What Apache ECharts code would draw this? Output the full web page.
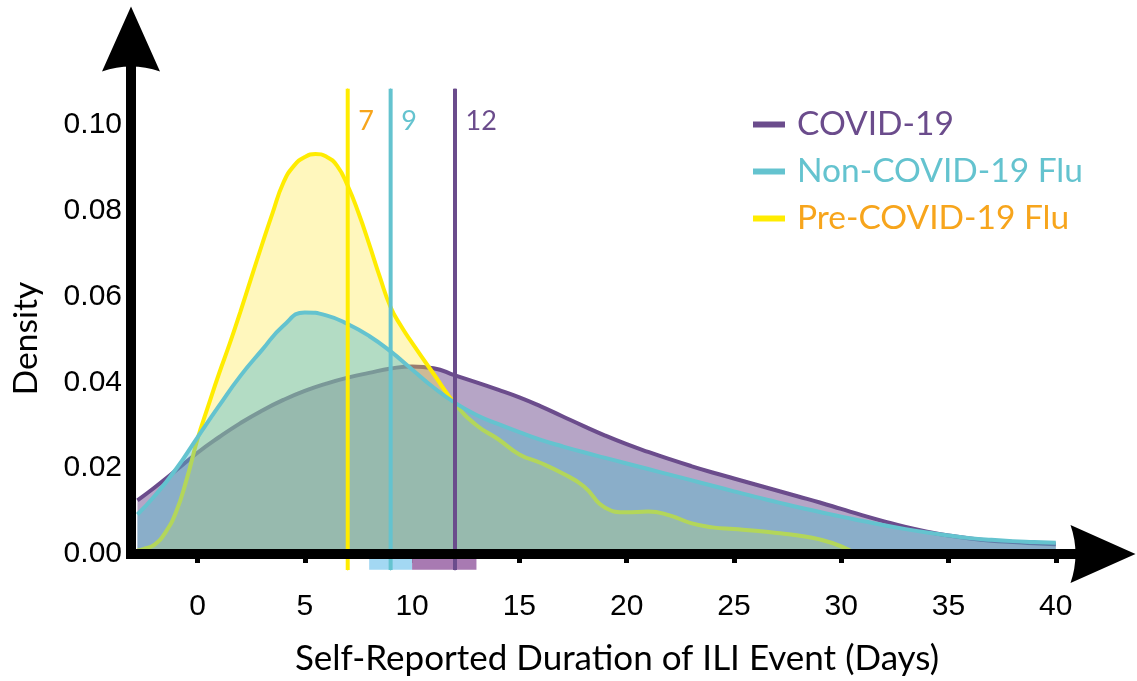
<!DOCTYPE html>
<html>
<head>
<meta charset="utf-8">
<script src="https://cdn.jsdelivr.net/npm/echarts@6/dist/echarts.min.js"></script>
<style>
html, body { margin: 0; padding: 0; background: #fff; }
#chart { width: 1137px; height: 681px; }
</style>
</head>
<body>
<div id="chart"></div>
<script>
// days sampled along the x axis (COVID-19 and Non-COVID-19 Flu curves)
var days = [-2.8, -2, -1, 0, 1, 2, 3, 4, 5, 6, 7, 8, 9, 10, 11, 12, 13, 14, 15, 16, 17, 18, 19, 20,
  21, 22, 23, 24, 25, 26, 27, 28, 29, 30, 31, 32, 33, 34, 35, 36, 37, 38, 39, 40];
var covidDensity = [0.0125, 0.0155, 0.0195, 0.0236, 0.0272, 0.0305, 0.0334, 0.0359, 0.0380, 0.0397, 0.0411,
  0.0422, 0.0432, 0.0437, 0.0433, 0.0416, 0.0400, 0.0383, 0.0365, 0.0344, 0.0321, 0.0298, 0.0276, 0.0256,
  0.0238, 0.0221, 0.0205, 0.0190, 0.0176, 0.0162, 0.0148, 0.0134, 0.0120, 0.0105, 0.0090, 0.0076, 0.0063,
  0.0052, 0.0043, 0.0036, 0.0031, 0.0028, 0.0025, 0.0023];
var nonCovidFluDensity = [0.0092, 0.0135, 0.0198, 0.0272, 0.0345, 0.0415, 0.0475, 0.0532, 0.0563, 0.0556,
  0.0536, 0.0508, 0.0472, 0.0430, 0.0388, 0.0352, 0.0324, 0.0303, 0.0284, 0.0266, 0.0251, 0.0237, 0.0224,
  0.0211, 0.0198, 0.0185, 0.0172, 0.0159, 0.0146, 0.0133, 0.0121, 0.0109, 0.0098, 0.0087, 0.0077, 0.0067,
  0.0058, 0.0050, 0.0043, 0.0037, 0.0033, 0.0030, 0.0028, 0.0026];
// Pre-COVID-19 Flu curve has its own sampling (finer round the peak, ends around day 31)
var preDays = [-2.8, -2.5, -2, -1.5, -1, -0.5, 0, 0.5, 1, 1.5, 2, 2.5, 3, 3.5, 4, 4.5, 5, 5.5, 6, 6.5, 7,
  7.5, 8, 8.5, 9, 9.5, 10, 11, 12, 13, 14, 15, 16, 17, 18, 19, 20, 21, 22, 23, 24, 25, 26, 27, 28, 29, 30, 30.7];
var preCovidFluDensity = [0.0008, 0.0012, 0.0022, 0.0050, 0.0098, 0.0175, 0.0268, 0.0345, 0.0420, 0.0490,
  0.0565, 0.0643, 0.0720, 0.0795, 0.0865, 0.0905, 0.0925, 0.0932, 0.0926, 0.0905, 0.0858, 0.0795, 0.0722,
  0.0645, 0.0575, 0.0530, 0.0492, 0.0420, 0.0350, 0.0300, 0.0268, 0.0232, 0.0212, 0.0188, 0.0158, 0.0108,
  0.0097, 0.0099, 0.0090, 0.0072, 0.0062, 0.0058, 0.0054, 0.0049, 0.0043, 0.0034, 0.0018, 0];

// medians (vertical lines) and interquartile bars under the axis
var medians = [7, 9, 12];
var iqrLow = [8, 10];
var iqrHigh = [10, 13];
var xTicks = [0, 5, 10, 15, 20, 25, 30, 35, 40];

var purple = '#6b4c8c', teal = '#64c3cf', yellow = '#ffec00', orange = '#f7a51c';
var medianColors = [yellow, teal, purple];
var medianLabelColors = [orange, teal, purple];
var iqrColors = ['#a3d8f3', '#a87ab2'];

var arrow = 'path://M29,0 L58,65 Q29,55 0,65 Z';
var lineTop = 0.1084, lineBottom = -0.0037, barY = -0.0024;

function pairs(xs, ys) {
  return xs.map(function (x, i) { return [x, ys[i]]; });
}

function densitySeries(name, xs, ys, line, fill, z) {
  return {
    name: name,
    type: 'line',
    data: pairs(xs, ys),
    smooth: 0.5,
    showSymbol: false,
    symbol: 'none',
    color: line,
    lineStyle: { color: line, width: 4 },
    areaStyle: { color: fill, opacity: 1 },
    z: z
  };
}

// stacking order: purple at the bottom, then yellow, teal on top
var series = [
  densitySeries('COVID-19', days, covidDensity, purple, 'rgba(110,76,142,0.5)', 2),
  densitySeries('Pre-COVID-19 Flu', preDays, preCovidFluDensity, yellow, 'rgba(255,230,50,0.32)', 3),
  densitySeries('Non-COVID-19 Flu', days, nonCovidFluDensity, teal, 'rgba(83,187,204,0.44)', 4)
];

iqrLow.forEach(function (lo, i) {
  series.push({
    type: 'line',
    data: [[lo, barY], [iqrHigh[i], barY]],
    symbol: 'none',
    lineStyle: { color: iqrColors[i], width: 11, cap: 'butt' },
    clip: false,
    silent: true,
    z: 5
  });
});

medians.forEach(function (m, i) {
  series.push({
    type: 'line',
    data: [
      {
        value: [m, lineTop],
        label: {
          show: true, position: 'right', offset: [5, 33], formatter: String(m),
          color: medianLabelColors[i], fontFamily: 'Lato', fontSize: 27
        }
      },
      [m, lineBottom]
    ],
    symbol: 'circle',
    symbolSize: 1,
    showSymbol: true,
    itemStyle: { color: medianColors[i] },
    lineStyle: { color: medianColors[i], width: 4 },
    clip: false,
    silent: true,
    z: 6
  });
});

var myChart = echarts.init(document.getElementById('chart'));
var option = {
  animation: false,
  backgroundColor: '#fff',
  grid: { left: 131, right: 34, top: 39, bottom: 123 },
  legend: {
    orient: 'vertical',
    left: 748,
    top: 96,
    itemWidth: 32,
    itemHeight: 6,
    itemGap: 0,
    icon: 'rect',
    formatter: function (name) { return '{p|}' + name; },
    textStyle: {
      fontFamily: 'Lato', fontSize: 33.5, lineHeight: 47,
      rich: { p: { width: 7 } }
    },
    data: [
      { name: 'COVID-19', itemStyle: { color: purple }, textStyle: { color: purple } },
      { name: 'Non-COVID-19 Flu', itemStyle: { color: teal }, textStyle: { color: teal } },
      { name: 'Pre-COVID-19 Flu', itemStyle: { color: yellow }, textStyle: { color: orange } }
    ]
  },
  xAxis: [
    {
      type: 'value',
      min: -3.1,
      max: 42.2,
      z: 10,
      name: 'Self-Reported Duration of ILI Event (Days)',
      nameLocation: 'middle',
      nameGap: 87,
      nameTextStyle: { fontFamily: 'Lato', fontSize: 35, color: '#000' },
      axisLine: {
        onZero: false,
        symbol: ['none', arrow],
        symbolSize: [58, 65],
        lineStyle: { color: '#000', width: 10, cap: 'square' }
      },
      axisTick: { show: false },
      axisLabel: { show: false },
      splitLine: { show: false }
    },
    {
      type: 'value',
      min: -3.1,
      max: 42.2,
      position: 'bottom',
      offset: 18,
      axisLine: { show: false },
      axisTick: { show: true, customValues: xTicks, length: 9, lineStyle: { color: '#000', width: 5 } },
      axisLabel: {
        customValues: xTicks, margin: 20,
        fontFamily: 'Liberation Sans', fontSize: 30, color: '#000'
      },
      splitLine: { show: false }
    }
  ],
  yAxis: {
    type: 'value',
    min: 0,
    max: 0.12,
    interval: 0.02,
    z: 10,
    name: 'Density',
    nameLocation: 'middle',
    nameRotate: 90,
    nameGap: 88,
    nameTextStyle: { fontFamily: 'Lato', fontSize: 33.5, color: '#000', padding: [0, 84, 0, 0] },
    axisLine: {
      onZero: false,
      symbol: ['none', arrow],
      symbolSize: [58, 65],
      lineStyle: { color: '#000', width: 10, cap: 'square' }
    },
    axisTick: { show: false },
    axisLabel: {
      margin: 9,
      fontFamily: 'Liberation Sans', fontSize: 30, color: '#000',
      formatter: function (v) { return v > 0.11 ? '' : v.toFixed(2); }
    },
    splitLine: { show: false }
  },
  series: series
};
myChart.setOption(option);
window.addEventListener('resize', function () {
  myChart.resize();
});
</script>
</body>
</html>
